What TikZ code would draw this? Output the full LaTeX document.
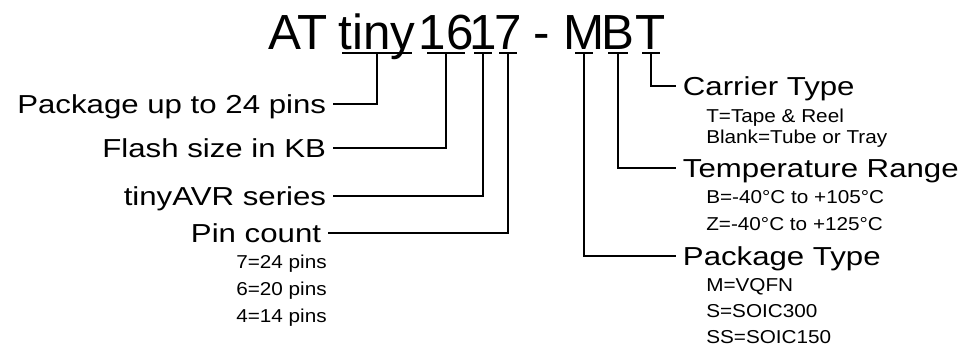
\documentclass[tikz,border=0pt]{standalone}
\usepackage{fontspec}
\setmainfont{Liberation Sans}
\newfontfamily\labelfont[FakeStretch=1.2]{Liberation Sans}
\newfontfamily\notefont[FakeStretch=1.11]{Liberation Sans}
\usetikzlibrary{positioning}

\begin{document}
\begin{tikzpicture}[
    x=0.75pt, y=-0.75pt,
    part/.style={inner sep=0pt, anchor=south, text height=27pt, text depth=2.25pt, font=\fontsize{37pt}{40pt}\selectfont},
    field/.style={inner xsep=5pt, inner ysep=0pt, text height=13pt, text depth=0pt, font=\labelfont\fontsize{19.5pt}{22pt}\selectfont},
    note/.style={inner sep=0pt, font=\notefont\fontsize{14pt}{20pt}\selectfont},
    link/.style={line width=1.4pt},
]
\useasboundingbox (0,0) rectangle (969,346);

% part number
\node[part] (family) at (298,53) {AT};
\node[part] (tiny) at (377,53) {tiny};
\node[part] (flash) at (446,53) {16};
\node[part] (series) at (483,53) {1};
\node[part] (pins) at (508,53) {7};
\node[part] (dash) at (542,53) {-};
\node[part] (pkg) at (584,53) {M};
\node[part] (temp) at (618,53) {B};
\node[part] (carrier) at (651,53) {T};

% left fields
\node[field, anchor=base east] (pkgpins) at (333,113) {Package up to 24 pins};
\node[field, anchor=base east] (flashsize) at (333,157) {Flash size in KB};
\node[field, anchor=base east] (avr) at (333,205) {tinyAVR series};
\node[field, anchor=base east] (pincount) at (328,242) {Pin count};
\node[note, anchor=north east, align=right] (pinnote) at (327,255) {7=24 pins\\6=20 pins\\4=14 pins};

% right fields
\node[field, anchor=base west] (carriertype) at (676,95) {Carrier Type};
\node[note, anchor=north west, align=left, font=\notefont\fontsize{14pt}{15.5pt}\selectfont] (carriernote) at (706,109) {T=Tape \& Reel\\Blank=Tube or Tray};
\node[field, anchor=base west] (temprange) at (676,177) {Temperature Range};
\node[note, anchor=north west, align=left] (tempnote) at (706,190.6) {B=-40°C to +105°C\\Z=-40°C to +125°C};
\node[field, anchor=base west] (pkgtype) at (676,265) {Package Type};
\node[note, anchor=north west, align=left, font=\notefont\fontsize{14pt}{19.6pt}\selectfont] (pkgnote) at (706,278) {M=VQFN\\S=SOIC300\\SS=SOIC150};

% underlines
\foreach \p/\w in {tiny/25.9pt, flash/14.25pt, series/6.75pt, pins/6.75pt, pkg/6.75pt, temp/7.5pt, carrier/6.75pt}
    \draw[link] ([xshift=-\w]\p.south) -- ([xshift=\w]\p.south);

% leaders
\draw[link] (tiny.south) |- (pkgpins.east);
\draw[link] (flash.south) |- (flashsize.east);
\draw[link] (series.south) |- (avr.east);
\draw[link] (pins.south) |- (pincount.east);
\draw[link] (pkg.south) |- (pkgtype.west);
\draw[link] (temp.south) |- (temprange.west);
\draw[link] (carrier.south) |- (carriertype.west);

\end{tikzpicture}
\end{document}
